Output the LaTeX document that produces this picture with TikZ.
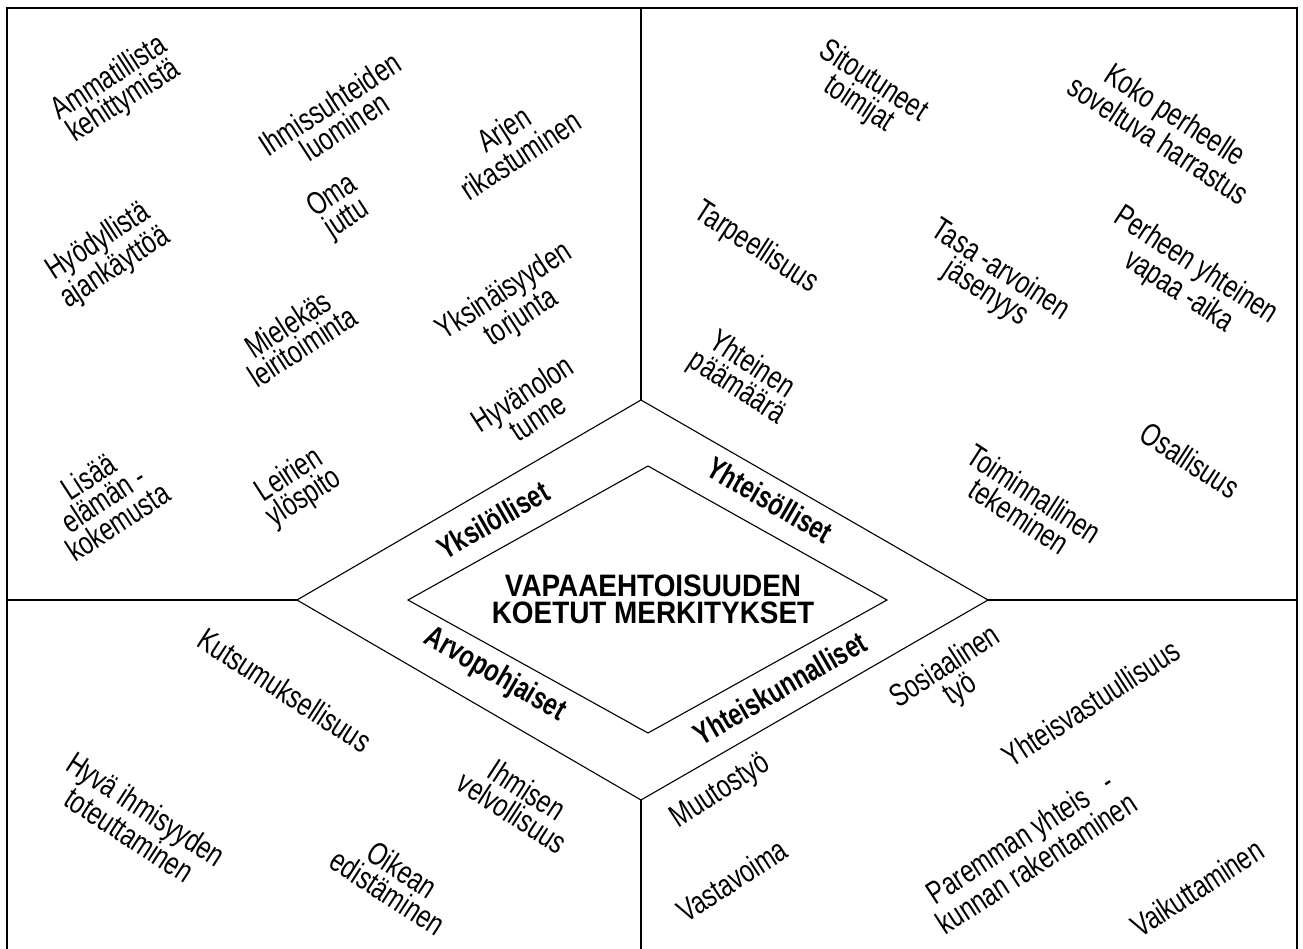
\documentclass[tikz,border=0pt]{standalone}
\usepackage{fontspec}
\setmainfont{Liberation Sans}
\newfontfamily\narrowfont[FakeStretch=0.75]{Liberation Sans}
\newfontfamily\catfont[FakeStretch=0.76]{Liberation Sans}
\newfontfamily\titlefont[FakeStretch=0.9]{Liberation Sans}
\tikzset{
  frameline/.style={line width=1.3pt, black},
  thinline/.style={line width=1.1pt, black},
  lbl/.style={font=\narrowfont\fontsize{32}{27}\selectfont, align=center, inner sep=0pt},
  catlbl/.style={font=\catfont\bfseries\fontsize{31}{31}\selectfont, inner sep=0pt},
  titlelbl/.style={font=\titlefont\bfseries\fontsize{31}{27}\selectfont, align=center, inner sep=0pt}
}
\begin{document}
\begin{tikzpicture}[x=1pt,y=-1pt]
\useasboundingbox (0,0) rectangle (1303,949);
% frame
\coordinate (fbl) at (7,949);
\coordinate (ftl) at (7,8);
\coordinate (ftr) at (1297,8);
\coordinate (fbr) at (1297,949);
\draw[frameline] (fbl) -- (ftl) -- (ftr) -- (fbr);
% outer diamond
\coordinate (ot) at (641,400);
\coordinate (or) at (988,600);
\coordinate (ob) at (641,800);
\coordinate (ol) at (297,600);
\draw[thinline] (ot) -- (or) -- (ob) -- (ol) -- cycle;
% inner diamond
\coordinate (it) at (648,466);
\coordinate (ir) at (887,600);
\coordinate (ib) at (648,733);
\coordinate (il) at (408,600);
\draw[thinline] (it) -- (ir) -- (ib) -- (il) -- cycle;
% dividers
\coordinate (vtop) at (641,8);
\coordinate (vbot) at (641,949);
\coordinate (hl) at (7,600);
\coordinate (hr) at (1297,600);
\draw[thinline] (vtop) -- (ot);
\draw[thinline] (ob) -- (vbot);
\draw[thinline] (hl) -- (ol);
\draw[thinline] (or) -- (hr);
% title
\node[titlelbl] (title) at (653,599) {VAPAAEHTOISUUDEN\\KOETUT MERKITYKSET};
% category labels
\node[catlbl, rotate=30] (c1) at (493,520) {Yksilölliset};
\node[catlbl, rotate=-30] (c2) at (770,500) {Yhteisölliset};
\node[catlbl, rotate=-30] (c3) at (495,675) {Arvopohjaiset};
\node[catlbl, rotate=30] (c4) at (780,688) {Yhteiskunnalliset};
% top-left
\node[lbl, rotate=33] (a1) at (117,90) {Ammatillista\\kehittymistä};
\node[lbl, rotate=33] (a2) at (337,115) {Ihmissuhteiden\\luominen};
\node[lbl, rotate=33] (a3) at (512,142) {Arjen\\rikastuminen};
\node[lbl, rotate=33] (a4) at (340,208) {Oma\\juttu};
\node[lbl, rotate=33] (a5) at (107,255) {Hyödyllistä\\ajankäyttöä};
\node[lbl, rotate=33] (a6) at (513,305) {Yksinäisyyden\\torjunta};
\node[lbl, rotate=33] (a7) at (295,335) {Mielekäs\\leiritoiminta};
\node[lbl, rotate=33] (a8) at (530,405) {Hyvänolon\\tunne};
\node[lbl, rotate=33] (a9) at (103,499) {Lisää\\elämän -\\kokemusta};
\node[lbl, rotate=33] (a10) at (297,487) {Leirien\\ylöspito};
% top-right
\node[lbl, rotate=-33] (b1) at (866,93) {Sitoutuneet\\toimijat};
\node[lbl, rotate=-33] (b2) at (1167,127) {Koko perheelle\\soveltuva harrastus};
\node[lbl, rotate=-33] (b3) at (756,248) {Tarpeellisuus};
\node[lbl, rotate=-33] (b4) at (993,282) {Tasa -arvoinen\\jäsenyys};
\node[lbl, rotate=-33] (b5) at (1187,279) {Perheen yhteinen\\vapaa -aika};
\node[lbl, rotate=-33] (b6) at (744,377) {Yhteinen\\päämäärä};
\node[lbl, rotate=-33] (b7) at (1190,460) {Osallisuus};
\node[lbl, rotate=-33] (b8) at (1027,505) {Toiminnallinen\\tekeminen};
% bottom-left
\node[lbl, rotate=-33] (d1) at (285,690) {Kutsumuksellisuus};
\node[lbl, rotate=-33] (d2) at (138,822) {Hyvä ihmisyyden\\toteuttaminen};
\node[lbl, rotate=-33] (d3) at (520,801) {Ihmisen\\velvollisuus};
\node[lbl, rotate=-33] (d4) at (395,881) {Oikean\\edistäminen};
% bottom-right
\node[lbl, rotate=33] (e1) at (953,679) {Sosiaalinen\\työ};
\node[lbl, rotate=33] (e2) at (1091,703) {Yhteisvastuullisuus};
\node[lbl, rotate=33] (e3) at (721,792) {Muutostyö};
\node[lbl, rotate=33] (e4) at (1028,850) {Paremman yhteis\ \ \ -\\kunnan rakentaminen};
\node[lbl, rotate=33] (e5) at (732,880) {Vastavoima};
\node[lbl, rotate=33] (e6) at (1197,888) {Vaikuttaminen};
\end{tikzpicture}
\end{document}
